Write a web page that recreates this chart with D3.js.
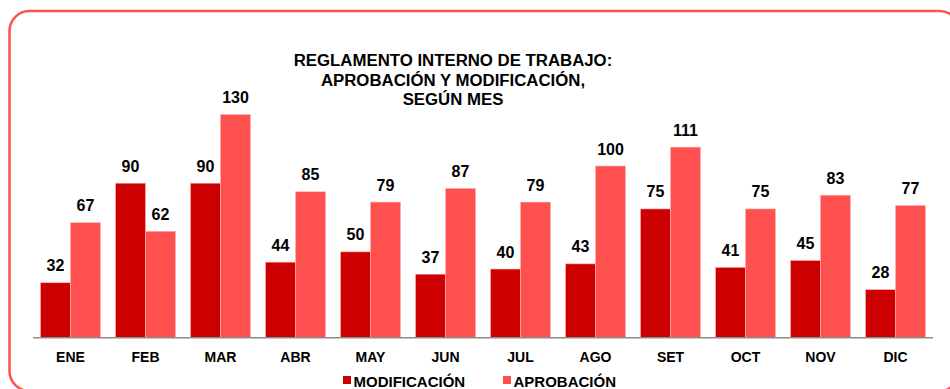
<!DOCTYPE html>
<html>
<head>
<meta charset="utf-8">
<script src="https://cdn.jsdelivr.net/npm/d3@7"></script>
<style>
  html, body { margin: 0; padding: 0; background: #fff; }
  svg { display: block; font-family: Arial, "Liberation Sans", sans-serif; }
</style>
</head>
<body>
<svg id="chart" width="950" height="389"></svg>
<script>
// Monthly counts of internal work regulations
const months = ["ENE", "FEB", "MAR", "ABR", "MAY", "JUN", "JUL", "AGO", "SET", "OCT", "NOV", "DIC"];
const modificacion = [32, 90, 90, 44, 50, 37, 40, 43, 75, 41, 45, 28];
const aprobacion = [67, 62, 130, 85, 79, 87, 79, 100, 111, 75, 83, 77];
const seriesNames = ["MODIFICACIÓN", "APROBACIÓN"];
const seriesColors = ["#cc0000", "#ff5050"];
const titleLines = ["REGLAMENTO INTERNO DE TRABAJO:", "APROBACIÓN Y MODIFICACIÓN,", "SEGÚN MES"];

const svg = d3.select("#chart");

// Rounded frame
svg.append("rect")
  .attr("x", 9.5).attr("y", 11)
  .attr("width", 950).attr("height", 380)
  .attr("rx", 20).attr("ry", 20)
  .attr("fill", "none")
  .attr("stroke", "#ff5050")
  .attr("stroke-width", 2.5);

// Title
svg.append("text")
  .attr("text-anchor", "middle")
  .attr("font-weight", "bold")
  .attr("font-size", 16.8)
  .attr("fill", "#000")
  .selectAll("tspan")
  .data(titleLines)
  .join("tspan")
  .attr("x", 453)
  .attr("y", (d, i) => 66 + i * 19.5)
  .text(d => d);

const plot = { left: 33, right: 933, top: 114.5, bottom: 337.7 };

const x = d3.scaleBand()
  .domain(months)
  .range([plot.left, plot.right])
  .paddingInner(0.2)
  .paddingOuter(0.1);

const xs = d3.scaleBand()
  .domain(seriesNames)
  .range([0, x.bandwidth()]);

const y = d3.scaleLinear()
  .domain([0, 130])
  .range([plot.bottom, plot.top]);

const rows = months.map((m, i) => ({
  month: m,
  values: [
    { key: seriesNames[0], value: modificacion[i], color: seriesColors[0] },
    { key: seriesNames[1], value: aprobacion[i], color: seriesColors[1] }
  ]
}));

const groups = svg.append("g")
  .selectAll("g")
  .data(rows)
  .join("g")
  .attr("transform", d => `translate(${x(d.month)},0)`);

groups.selectAll("rect")
  .data(d => d.values)
  .join("rect")
  .attr("x", d => xs(d.key))
  .attr("y", d => y(d.value))
  .attr("width", xs.bandwidth())
  .attr("height", d => y(0) - y(d.value))
  .attr("fill", d => d.color)
  .attr("stroke", "#ffb3b3")
  .attr("stroke-width", 0.6);

groups.selectAll("text")
  .data(d => d.values)
  .join("text")
  .attr("x", d => xs(d.key) + xs.bandwidth() / 2)
  .attr("y", d => y(d.value) - 11.5)
  .attr("text-anchor", "middle")
  .attr("font-weight", "bold")
  .attr("font-size", 16)
  .attr("fill", "#000")
  .text(d => d.value);

// Category axis
const xAxis = svg.append("g")
  .attr("transform", `translate(0,${plot.bottom})`)
  .call(d3.axisBottom(x).tickSize(0).tickPadding(14));
xAxis.select(".domain")
  .attr("stroke", "#8c8c8c")
  .attr("stroke-width", 1.5)
  .attr("d", `M${plot.left},0H${plot.right}`);
xAxis.selectAll("text")
  .attr("font-family", "Arial, 'Liberation Sans', sans-serif")
  .attr("font-weight", "bold")
  .attr("font-size", 14)
  .attr("fill", "#000");

// Legend
const legendX = [343, 503];
const legend = svg.append("g")
  .selectAll("g")
  .data(seriesNames)
  .join("g")
  .attr("transform", (d, i) => `translate(${legendX[i]},376)`);
legend.append("rect")
  .attr("width", 8).attr("height", 8)
  .attr("fill", (d, i) => seriesColors[i]);
legend.append("text")
  .attr("x", 10.5).attr("y", 10.5)
  .attr("font-weight", "bold")
  .attr("font-size", 15)
  .attr("fill", "#000")
  .text(d => d);
</script>
</body>
</html>
